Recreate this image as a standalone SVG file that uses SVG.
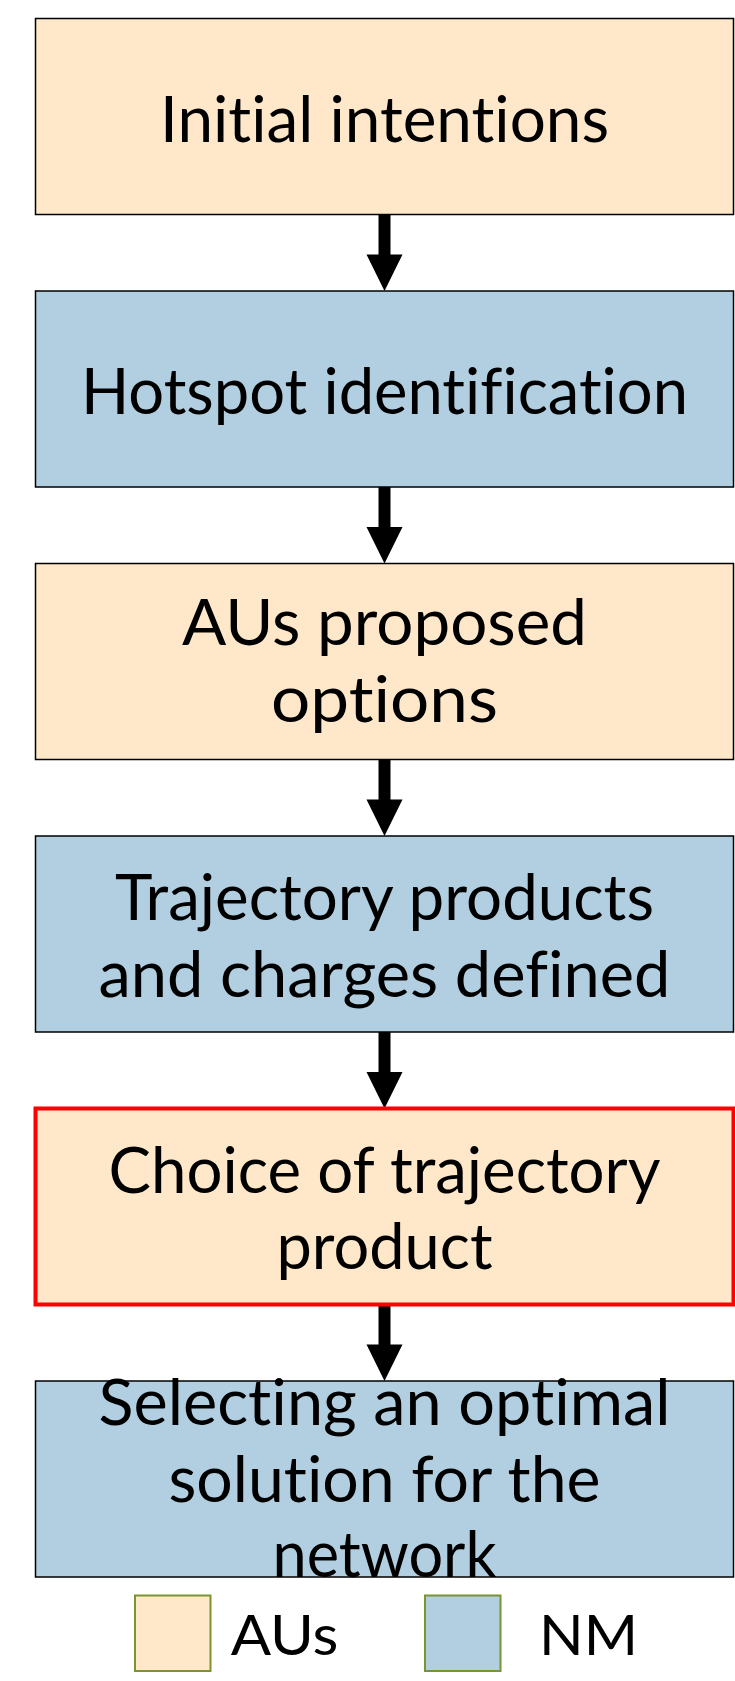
<svg xmlns="http://www.w3.org/2000/svg" width="735" height="1681" viewBox="0 0 735 1681">
  <style>
    .box { stroke: #000; stroke-width: 1.5; }
    .au { fill: #FFE8C9; }
    .nm { fill: #B1CFE1; }
    .hl { stroke: #FF0000; stroke-width: 4; }
    .t { font-family: Lato, "Open Sans", "Liberation Sans", sans-serif; font-size: 63px; fill: #000; text-anchor: middle; font-variant-ligatures: none; font-feature-settings: "liga" 0, "clig" 0, "dlig" 0; }
    .lt { font-family: Lato, "Open Sans", "Liberation Sans", sans-serif; font-size: 57px; fill: #000; font-variant-ligatures: none; }
    .leg { stroke: #7A9430; stroke-width: 2; }
    .arrow { fill: #000; }
  </style>
  <defs>
    <path id="arr" d="M-6,0 L6,0 L6,40 L18,40 L0,76.5 L-18,40 L-6,40 Z"/>
  </defs>

  <g id="connectors">
    <use href="#arr" class="arrow" x="384.5" y="214.5"/>
    <use href="#arr" class="arrow" x="384.5" y="487"/>
    <use href="#arr" class="arrow" x="384.5" y="759.5"/>
    <use href="#arr" class="arrow" x="384.5" y="1032"/>
    <use href="#arr" class="arrow" x="384.5" y="1304.5"/>
  </g>

  <g id="node-initial-intentions">
    <rect class="box au" x="35.5" y="18.5" width="698" height="196"/>
    <text class="t" x="384.5" y="141.5" textLength="449" lengthAdjust="spacingAndGlyphs">Initial intentions</text>
  </g>

  <g id="node-hotspot-identification">
    <rect class="box nm" x="35.5" y="291" width="698" height="196"/>
    <text class="t" x="384.5" y="413.5" textLength="607" lengthAdjust="spacingAndGlyphs">Hotspot identification</text>
  </g>

  <g id="node-aus-proposed-options">
    <rect class="box au" x="35.5" y="563.5" width="698" height="196"/>
    <text class="t" x="384.5" y="645" textLength="405" lengthAdjust="spacingAndGlyphs">AUs proposed</text>
    <text class="t" x="384.5" y="721.7" textLength="227" lengthAdjust="spacingAndGlyphs">options</text>
  </g>

  <g id="node-trajectory-products">
    <rect class="box nm" x="35.5" y="836" width="698" height="196"/>
    <text class="t" x="384.5" y="920" textLength="539" lengthAdjust="spacingAndGlyphs">Trajectory products</text>
    <text class="t" x="384.5" y="996.5" textLength="572" lengthAdjust="spacingAndGlyphs">and charges defined</text>
  </g>

  <g id="node-choice-of-trajectory">
    <rect class="au hl" x="35.5" y="1108.5" width="698" height="196"/>
    <text class="t" x="384.5" y="1192.7" textLength="552" lengthAdjust="spacingAndGlyphs">Choice of trajectory</text>
    <text class="t" x="384.5" y="1269.3" textLength="216" lengthAdjust="spacingAndGlyphs">product</text>
  </g>

  <g id="node-selecting-optimal">
    <rect class="box nm" x="35.5" y="1381" width="698" height="196"/>
    <text class="t" x="384.5" y="1425" textLength="572" lengthAdjust="spacingAndGlyphs">Selecting an optimal</text>
    <text class="t" x="384.5" y="1501.7" textLength="432" lengthAdjust="spacingAndGlyphs">solution for the</text>
    <text class="t" x="384.5" y="1577" textLength="224" lengthAdjust="spacingAndGlyphs">network</text>
  </g>

  <g id="legend">
    <g id="legend-aus">
      <rect class="au leg" x="135" y="1595.5" width="75.5" height="75.5"/>
      <text class="lt" x="230.7" y="1655" textLength="107.7" lengthAdjust="spacingAndGlyphs">AUs</text>
    </g>
    <g id="legend-nm">
      <rect class="nm leg" x="425" y="1595.5" width="75.5" height="75.5"/>
      <text class="lt" x="539" y="1655" textLength="99" lengthAdjust="spacingAndGlyphs">NM</text>
    </g>
  </g>
</svg>
